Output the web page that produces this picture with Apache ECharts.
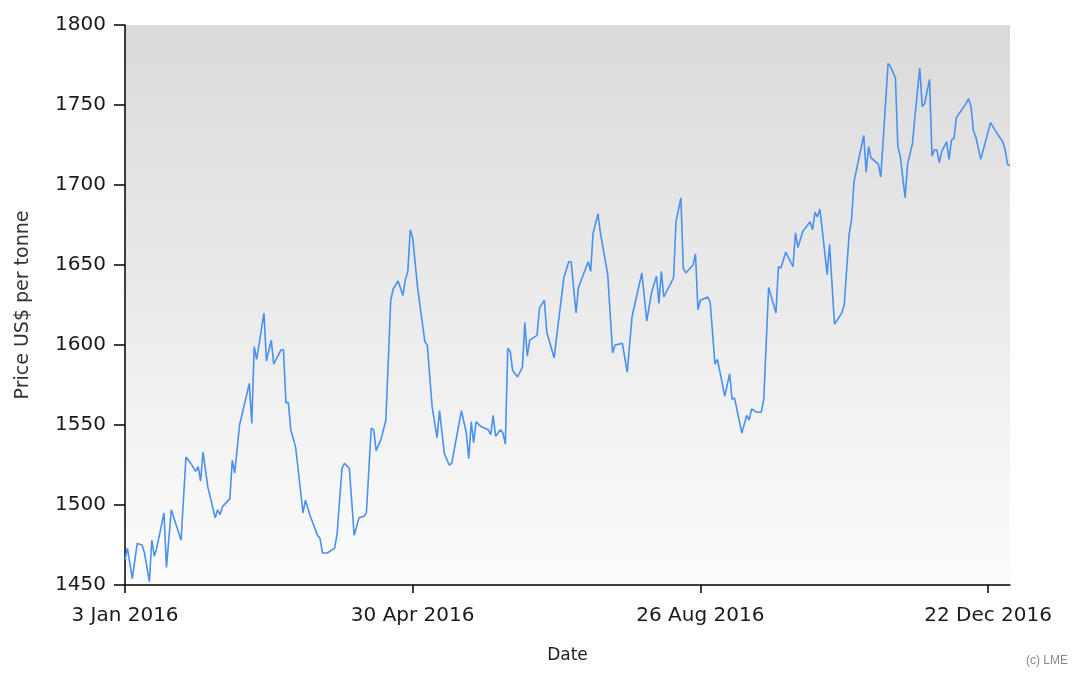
<!DOCTYPE html>
<html>
<head>
<meta charset="utf-8">
<script src="https://cdn.jsdelivr.net/npm/echarts@6/dist/echarts.min.js"></script>
<style>
  html, body { margin: 0; padding: 0; background: #ffffff; }
  #chart { width: 1074px; height: 675px; }
</style>
</head>
<body>
<div id="chart"></div>
<script>
// Days since 3 Jan 2016
const days = [0,1,3,5,7,8,10,11,12,13,16,17,19,23,25,27,29,30,31,32,34,37,38,39,40,43,44,45,47,51,52,53,54,57,58,60,61,64,65,66,67,68,70,73,74,76,79,80,81,83,86,87,89,90,92,94,96,98,99,101,102,103,105,107,109,110,112,114,115,116,117,118,120,123,124,126,128,129,131,133,134,138,140,141,142,143,144,146,149,150,151,152,154,155,156,157,158,159,161,163,164,165,166,169,170,172,173,176,180,182,183,185,186,190,191,192,194,195,198,200,201,204,206,208,212,214,216,218,219,220,221,225,226,228,229,230,233,234,235,236,239,240,242,243,246,248,249,250,253,255,256,257,259,261,262,264,267,268,269,271,274,275,276,278,281,282,283,284,285,286,288,289,291,294,295,297,298,299,303,304,305,306,309,310,313,314,316,317,318,320,321,323,324,326,327,328,330,331,332,333,334,335,337,338,339,340,341,345,346,347,348,349,351,355,357,360,361,362,363];
// Price, US$ per tonne
const prices = [1466,1473,1454,1476,1475,1470,1452,1478,1468,1473,1495,1461,1497,1478,1530,1526,1521,1524,1515,1533,1511,1492,1497,1494,1499,1504,1528,1520,1550,1576,1551,1599,1591,1620,1590,1603,1588,1597,1597,1564,1564,1547,1536,1495,1503,1493,1481,1479,1470,1470,1473,1482,1523,1526,1523,1481,1492,1493,1495,1548,1547,1534,1541,1553,1628,1635,1640,1631,1641,1646,1672,1667,1636,1602,1600,1561,1542,1559,1532,1525,1526,1559,1545,1529,1552,1539,1552,1549,1547,1544,1556,1543,1547,1545,1538,1598,1596,1584,1580,1586,1614,1593,1603,1606,1623,1628,1608,1592,1642,1652,1652,1620,1636,1652,1646,1670,1682,1670,1644,1595,1600,1601,1583,1618,1645,1615,1633,1643,1626,1646,1630,1642,1677,1692,1648,1645,1650,1657,1622,1628,1630,1627,1588,1591,1568,1582,1566,1567,1545,1556,1553,1560,1558,1558,1566,1636,1620,1649,1648,1658,1649,1670,1661,1671,1677,1672,1683,1680,1685,1672,1644,1663,1613,1620,1625,1669,1678,1702,1731,1708,1724,1717,1713,1705,1776,1774,1767,1724,1718,1692,1713,1726,1743,1773,1749,1751,1766,1718,1722,1722,1714,1721,1727,1716,1728,1729,1742,1751,1754,1749,1734,1730,1716,1739,1734,1727,1722,1713,1712];
const xTicks = [0, 118, 236, 354];
const months = ['Jan','Feb','Mar','Apr','May','Jun','Jul','Aug','Sep','Oct','Nov','Dec'];

function dayLabel(v) {
  const d = new Date(Date.UTC(2016, 0, 3 + v));
  return d.getUTCDate() + ' ' + months[d.getUTCMonth()] + ' ' + d.getUTCFullYear();
}

const chart = echarts.init(document.getElementById('chart'), null, { renderer: 'canvas' });
const font = 'DejaVu Sans';
chart.setOption({
  animation: false,
  backgroundColor: '#ffffff',
  grid: {
    left: 125, top: 25, right: 64, bottom: 90,
    outerBoundsMode: 'none', containLabel: false,
    show: true, borderWidth: 0,
    backgroundColor: new echarts.graphic.LinearGradient(0, 0, 0, 1, [
      { offset: 0, color: '#dadada' },
      { offset: 1, color: '#fcfcfc' }
    ])
  },
  xAxis: {
    type: 'value', min: 0, max: 363,
    name: 'Date', nameLocation: 'middle', nameGap: 62,
    nameTextStyle: { fontFamily: font, fontSize: 17, color: '#222' },
    axisLine: { show: true, lineStyle: { color: '#000', width: 1.5 } },
    axisTick: { show: true, length: 8, customValues: xTicks, lineStyle: { color: '#000', width: 1.5 } },
    axisLabel: { customValues: xTicks, formatter: dayLabel, margin: 21, fontFamily: font, fontSize: 20, color: '#1a1a1a' },
    splitLine: { show: false }
  },
  yAxis: {
    type: 'value', min: 1450, max: 1800, interval: 50,
    name: 'Price US$ per tonne', nameLocation: 'middle', nameGap: 92, nameRotate: 90,
    nameTextStyle: { fontFamily: font, fontSize: 19, color: '#333' },
    axisLine: { show: true, lineStyle: { color: '#000', width: 1.5 } },
    axisTick: { show: true, length: 11, lineStyle: { color: '#000', width: 1.5 } },
    axisLabel: { margin: 19, fontFamily: font, fontSize: 20, color: '#1a1a1a', formatter: v => String(v) },
    splitLine: { show: false }
  },
  series: [{
    type: 'line',
    data: days.map((d, i) => [d, prices[i]]),
    showSymbol: false,
    lineStyle: { color: '#4a90ee', width: 1.6 },
    z: 3
  }],
  graphic: [{
    type: 'text', right: 6, top: 655,
    style: { text: '(c) LME', fontFamily: 'Liberation Sans', fontSize: 12, fill: '#8a8a8a' }
  }]
});
</script>
</body>
</html>
